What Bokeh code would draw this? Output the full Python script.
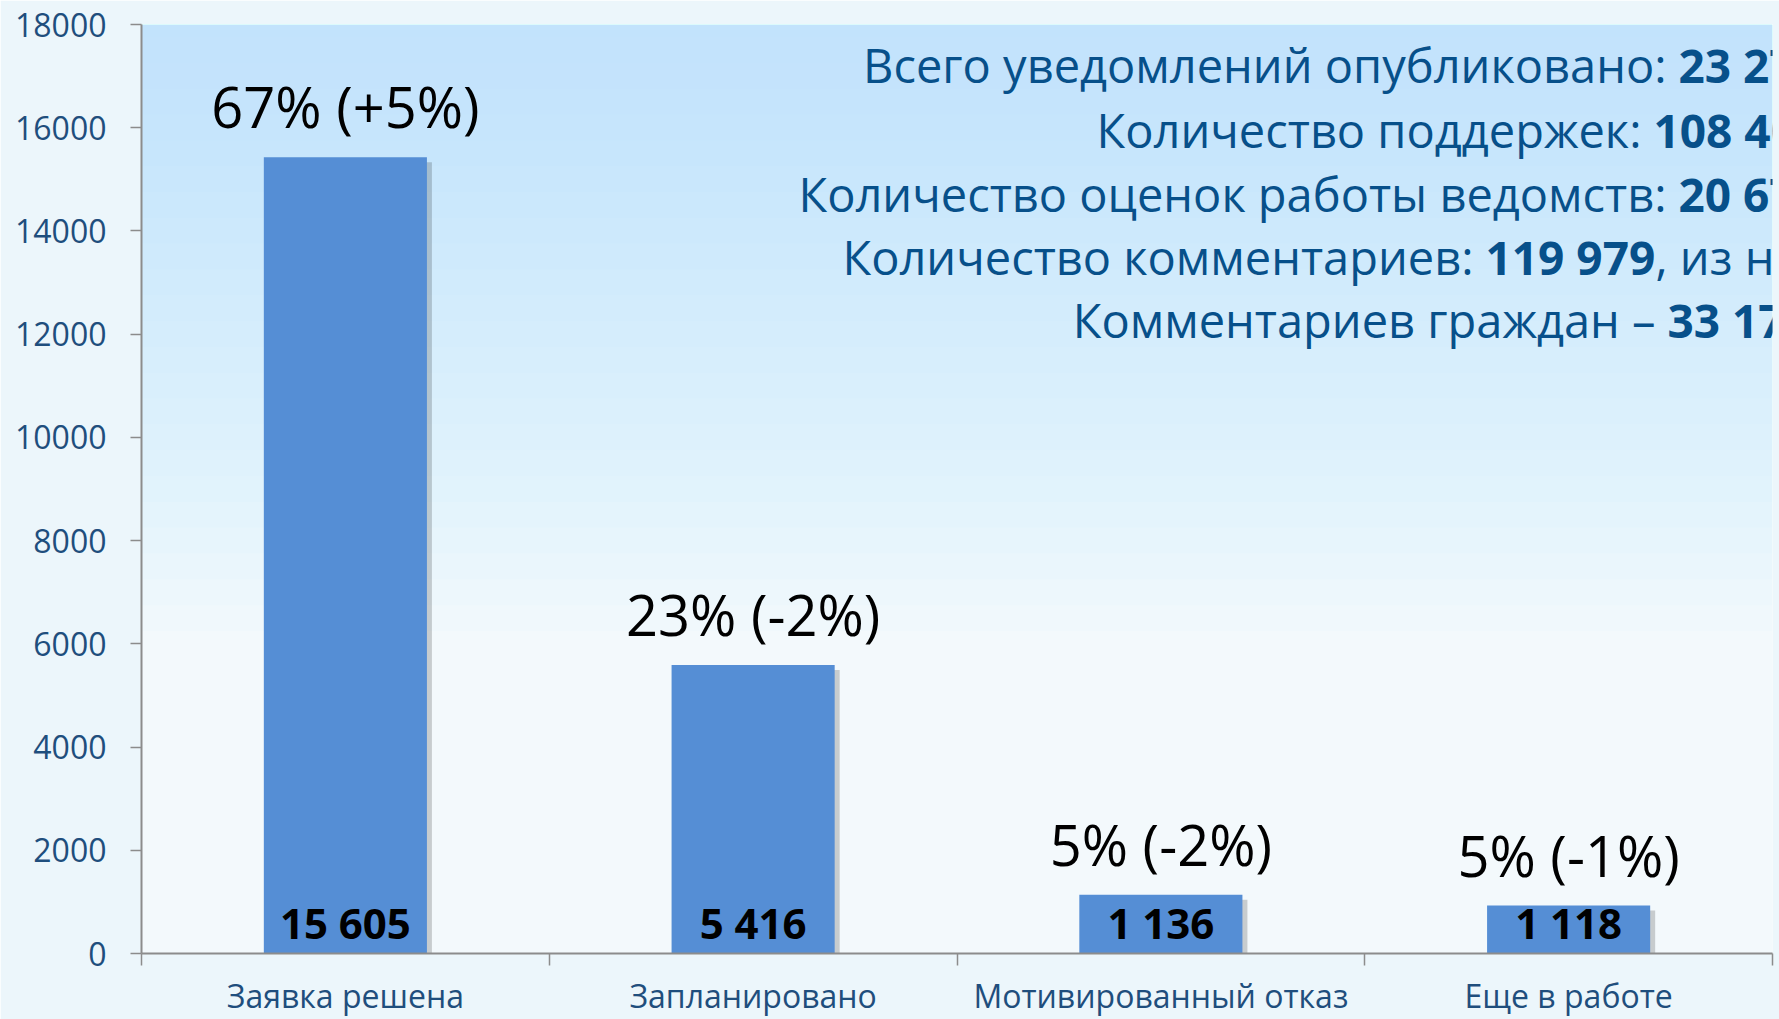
from bokeh.plotting import figure
from bokeh.models import (Range1d, FixedTicker, ColumnDataSource,
                          LabelSet, Label, BoxAnnotation)
from bokeh.core.properties import value
from bokeh.embed import file_html
from bokeh.resources import INLINE

# ---------------- data ----------------
categories = ["Заявка решена", "Запланировано", "Мотивированный отказ", "Еще в работе"]
bar_values = [15430, 5590, 1140, 930]
value_labels = ["15 605", "5 416", "1 136", "1 118"]
share_labels = ["67% (+5%)", "23% (-2%)", "5% (-2%)", "5% (-1%)"]
y_tick_values = [0, 2000, 4000, 6000, 8000, 10000, 12000, 14000, 16000, 18000]

info_regular = ["Всего уведомлений опубликовано:", "Количество поддержек:",
                "Количество оценок работы ведомств:", "Количество комментариев:",
                "Комментариев граждан –"]
info_bold = ["23 27", "108 40", "20 67", "119 979", "33 17"]
info_tail = ["", "", "", ", из них", ""]

# ---------------- layout ----------------
W, H = 1779, 1019
FL, FR, FT, FB = 141, 1772, 24, 955   # frame edges in pixels
YMAX = 18000
N = len(categories)


def px_x(px):
    return (px - FL) / (FR - FL) * N


def px_y(py):
    return (FB - py) / (FB - FT) * YMAX


def label_shift(size):
    # Label draws its baseline this many pixels below the anchor
    return 0.39 * size


centers = [i + 0.5 for i in range(N)]

p = figure(width=W, height=H, x_range=Range1d(0, N), y_range=Range1d(0, YMAX),
           output_backend="svg", toolbar_location=None,
           min_border_left=FL, min_border_right=W - FR, min_border_top=FT,
           min_border_bottom=H - FB)
p.grid.visible = False
p.outline_line_color = None
p.background_fill_color = "#f3f9fc"
p.border_fill_color = "#ecf6fb"

# sky gradient (many faint translucent bands)
for k in range(24):
    p.add_layout(BoxAnnotation(bottom=YMAX - 250 - 500 * k, fill_color="#aedcf1",
                               fill_alpha=0.034, line_color=None, level="underlay"))

axis_color = "#8c8c8c"
label_blue = "#1f4e7d"

# x axis: labels at category centres, tick marks at category boundaries
xa = p.xaxis[0]
xa.ticker = FixedTicker(ticks=centers, minor_ticks=list(range(N + 1)))
xa.major_label_overrides = {c: name for c, name in zip(centers, categories)}
xa.major_tick_line_color = None
xa.major_tick_out = 0
xa.major_tick_in = 0
xa.minor_tick_out = 12
xa.minor_tick_in = 0
xa.minor_tick_line_color = axis_color
xa.minor_tick_line_width = 1.5
xa.axis_line_color = axis_color
xa.axis_line_width = 2
xa.major_label_standoff = 8
xa.major_label_text_font = "Open Sans"
xa.major_label_text_font_size = "32px"
xa.major_label_text_color = label_blue

# y axis
ya = p.yaxis[0]
ya.ticker = FixedTicker(ticks=y_tick_values)
ya.major_tick_out = 11
ya.major_tick_in = 0
ya.minor_tick_line_color = None
ya.major_tick_line_color = axis_color
ya.major_tick_line_width = 1.5
ya.axis_line_color = axis_color
ya.axis_line_width = 2
ya.major_label_standoff = 24
ya.major_label_text_font = "Open Sans"
ya.major_label_text_font_size = "32px"
ya.major_label_text_color = label_blue

# bars
src = ColumnDataSource(dict(
    x=centers, top=bar_values, vals=value_labels, share=share_labels,
    xs=[c + px_x(FL + 5) for c in centers],
    ts=[v - (px_y(FB - 5) - px_y(FB)) for v in bar_values],
))
p.vbar(x="xs", top="ts", bottom=px_y(FB + 4), width=0.4, source=src,
       fill_color="#000000", fill_alpha=0.18, line_color=None)
p.vbar(x="x", top="top", bottom=0, width=0.4, source=src,
       fill_color="#558ed5", line_color=None)

p.add_layout(LabelSet(x="x", y="top", text="share", source=src, y_offset=29,
                      text_align="center", text_baseline="alphabetic",
                      text_font=value("Open Sans"), text_font_size=value("56px"),
                      text_color="#000000"))
p.add_layout(LabelSet(x="x", y=0, text="vals", source=src, y_offset=15,
                      text_align="center", text_baseline="alphabetic",
                      text_font=value("Open Sans"), text_font_size=value("42px"),
                      text_font_style="bold", text_color="#000000"))

# info block (top right)
info_color = "#07508a"
info_size = 47
baselines = [83, 148, 212, 275, 338]
bold_x = [1678, 1653, 1678, 1485, 1667]
tail_x = [None, None, None, 1655, None]
space_px = 12
for reg, bold, tail, by, bx, tx in zip(info_regular, info_bold, info_tail, baselines, bold_x, tail_x):
    yy = px_y(by - label_shift(info_size))
    p.add_layout(Label(x=px_x(bx - space_px), y=yy, text=reg, text_align="right",
                       text_baseline="alphabetic", text_font="Open Sans",
                       text_font_size=f"{info_size}px", text_color=info_color))
    p.add_layout(Label(x=px_x(bx), y=yy, text=bold, text_align="left",
                       text_baseline="alphabetic", text_font="Open Sans",
                       text_font_size="46px", text_font_style="bold", text_color=info_color))
    if tail:
        p.add_layout(Label(x=px_x(tx), y=yy, text=tail, text_align="left",
                           text_baseline="alphabetic", text_font="Open Sans",
                           text_font_size=f"{info_size}px", text_color=info_color))

open("out.html", "w").write(file_html(p, INLINE))
